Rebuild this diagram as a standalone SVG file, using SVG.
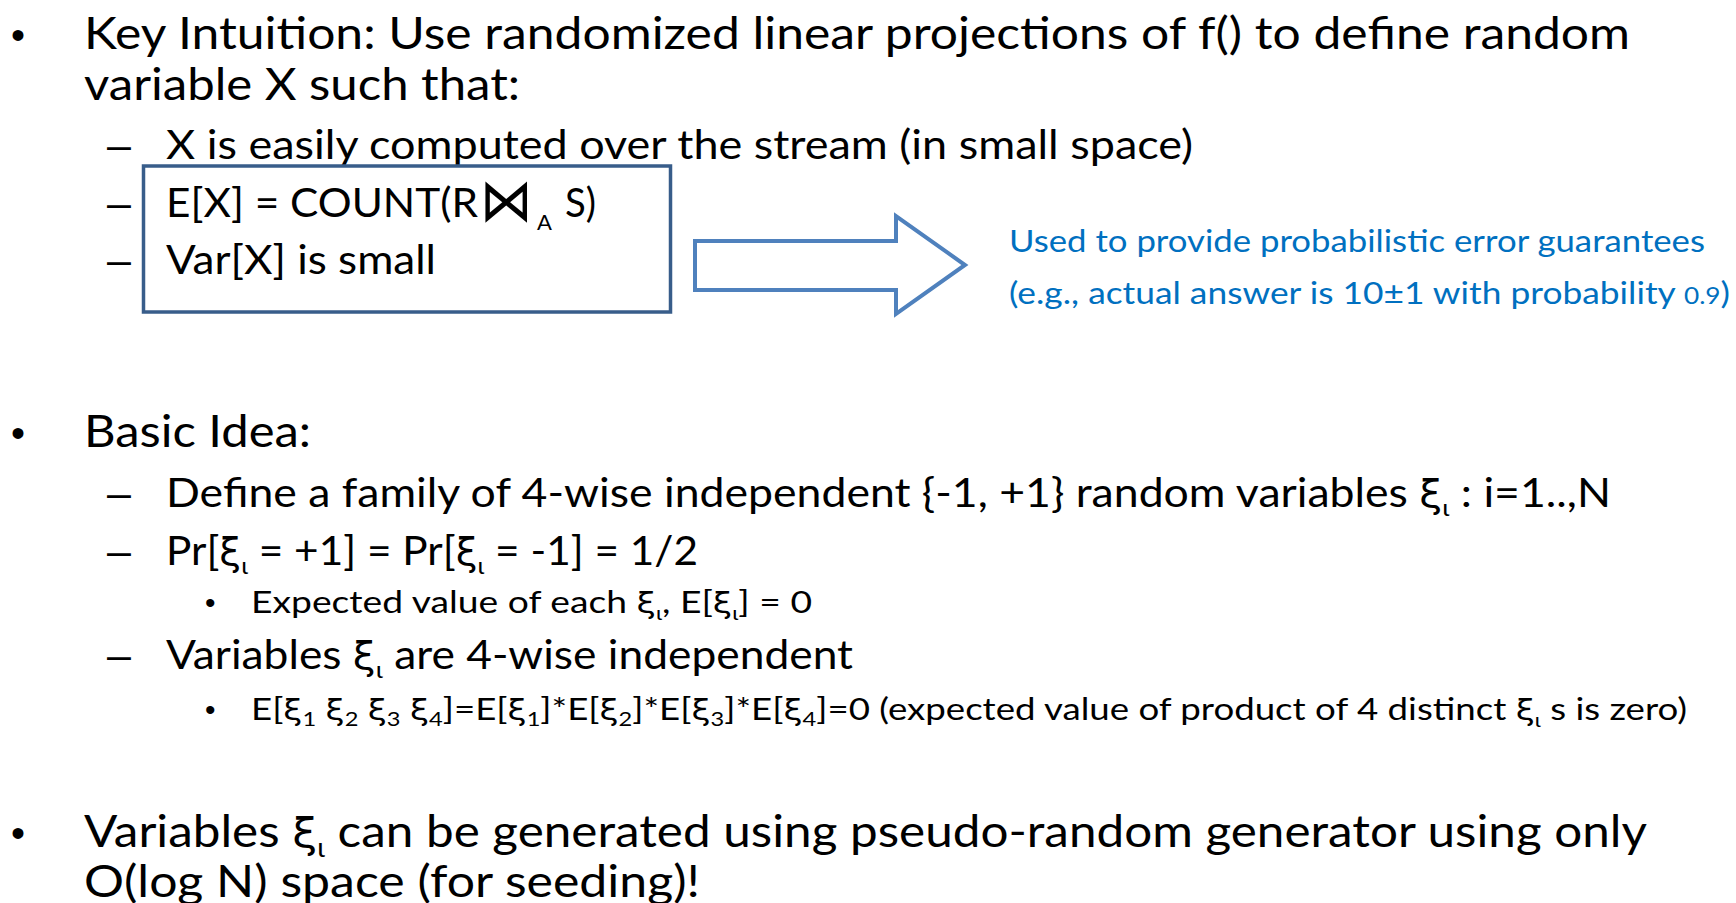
<svg xmlns="http://www.w3.org/2000/svg" width="1736" height="903" viewBox="0 0 1736 903">
  <style>
    text { font-family: Lato, "Liberation Sans", sans-serif; fill: #000; }
    .l1 { font-size: 45px; }
    .l2 { font-size: 40px; }
    .l3 { font-size: 31px; }
    .blt { font-family: "Liberation Sans", Arial, sans-serif; }
    .xi { font-family: "DejaVu Sans", sans-serif; }
    .blue { fill: #0070c0; font-size: 31px; }
    .box { fill: none; stroke: #385d8a; stroke-width: 3.5; }
    .block-arrow { fill: #fff; stroke: #4f81bd; stroke-width: 4; stroke-linejoin: miter; }
  </style>
  <rect width="1736" height="903" fill="#fff"/>

  <!-- Key intuition bullet -->
  <g id="key-intuition">
    <text class="blt" x="11" y="49" font-size="40">•</text>
    <text class="l1" x="84" y="49" textLength="1546" lengthAdjust="spacingAndGlyphs">Key Intuition: Use randomized linear projections of f() to define random</text>
    <text class="l1" x="84" y="100" textLength="436" lengthAdjust="spacingAndGlyphs">variable X such that:</text>
    <text class="blt" x="107" y="159" font-size="43">–</text>
    <text class="l2" x="166" y="159" textLength="1027" lengthAdjust="spacingAndGlyphs">X is easily computed over the stream (in small space)</text>
  </g>

  <!-- Boxed properties of X -->
  <g id="properties-box">
    <text class="blt" x="107" y="217" font-size="43">–</text>
    <text class="l2" x="166" y="217" textLength="312" lengthAdjust="spacingAndGlyphs">E[X] = COUNT(R</text>
    <text class="xi" transform="translate(480,221) scale(1,1.25)" x="0" y="0" font-size="48" textLength="53" lengthAdjust="spacingAndGlyphs">⋈</text>
    <text x="537" y="230" font-size="22">A</text>
    <text class="l2" x="565" y="217" textLength="31" lengthAdjust="spacingAndGlyphs">S)</text>
    <text class="blt" x="107" y="274" font-size="43">–</text>
    <text class="l2" x="166" y="274" textLength="270" lengthAdjust="spacingAndGlyphs">Var[X] is small</text>
    <rect class="box" x="143.5" y="166" width="527" height="146"/>
  </g>

  <!-- Connector: block arrow to the note -->
  <g id="connectors">
    <polygon class="block-arrow" points="695,241 896,241 896,216 965,265 896,314 896,290 695,290"/>
  </g>

  <!-- Note on error guarantees -->
  <g id="guarantee-note">
    <text class="blue" x="1009" y="252" textLength="696" lengthAdjust="spacingAndGlyphs">Used to provide probabilistic error guarantees</text>
    <text class="blue" x="1009" y="304" textLength="721" lengthAdjust="spacingAndGlyphs">(e.g., actual answer is 10±1 with probability <tspan font-size="23">0.9</tspan>)</text>
  </g>

  <!-- Basic idea bullet -->
  <g id="basic-idea">
    <text class="blt" x="11" y="447" font-size="40">•</text>
    <text class="l1" x="84" y="447" textLength="227" lengthAdjust="spacingAndGlyphs">Basic Idea:</text>

    <text class="blt" x="107" y="507" font-size="43">–</text>
    <text class="l2" x="166" y="507" textLength="1445" lengthAdjust="spacingAndGlyphs">Define a family of 4-wise independent {-1, +1} random variables <tspan class="xi" font-size="37">ξ</tspan><tspan font-size="24" dy="9">ι</tspan><tspan dy="-9"> : i=1..,N</tspan></text>

    <text class="blt" x="107" y="565" font-size="43">–</text>
    <text class="l2" x="166" y="565" textLength="532" lengthAdjust="spacingAndGlyphs">Pr[<tspan class="xi" font-size="37">ξ</tspan><tspan font-size="24" dy="9">ι</tspan><tspan dy="-9"> = +1] = Pr[</tspan><tspan class="xi" font-size="37">ξ</tspan><tspan font-size="24" dy="9">ι</tspan><tspan dy="-9"> = -1] = 1/2</tspan></text>

    <text class="blt" x="205" y="613" font-size="30">•</text>
    <text class="l3" x="251" y="613" textLength="561" lengthAdjust="spacingAndGlyphs">Expected value of each <tspan class="xi" font-size="29">ξ</tspan><tspan font-size="19" dy="7">ι</tspan><tspan dy="-7">,  E[</tspan><tspan class="xi" font-size="29">ξ</tspan><tspan font-size="19" dy="7">ι</tspan><tspan dy="-7">] = 0</tspan></text>

    <text class="blt" x="107" y="669" font-size="43">–</text>
    <text class="l2" x="166" y="669" textLength="687" lengthAdjust="spacingAndGlyphs">Variables <tspan class="xi" font-size="37">ξ</tspan><tspan font-size="24" dy="9">ι</tspan><tspan dy="-9"> are 4-wise independent</tspan></text>

    <text class="blt" x="205" y="720" font-size="30">•</text>
    <text class="l3" x="251" y="720" textLength="1436" lengthAdjust="spacingAndGlyphs">E[<tspan class="xi" font-size="29">ξ</tspan><tspan font-size="20" dy="6">1</tspan><tspan dy="-6"> </tspan><tspan class="xi" font-size="29">ξ</tspan><tspan font-size="20" dy="6">2</tspan><tspan dy="-6"> </tspan><tspan class="xi" font-size="29">ξ</tspan><tspan font-size="20" dy="6">3</tspan><tspan dy="-6"> </tspan><tspan class="xi" font-size="29">ξ</tspan><tspan font-size="20" dy="6">4</tspan><tspan dy="-6">]=E[</tspan><tspan class="xi" font-size="29">ξ</tspan><tspan font-size="20" dy="6">1</tspan><tspan dy="-6">]*E[</tspan><tspan class="xi" font-size="29">ξ</tspan><tspan font-size="20" dy="6">2</tspan><tspan dy="-6">]*E[</tspan><tspan class="xi" font-size="29">ξ</tspan><tspan font-size="20" dy="6">3</tspan><tspan dy="-6">]*E[</tspan><tspan class="xi" font-size="29">ξ</tspan><tspan font-size="20" dy="6">4</tspan><tspan dy="-6">]=0 (expected value of product of 4 distinct </tspan><tspan class="xi" font-size="29">ξ</tspan><tspan font-size="19" dy="7">ι</tspan><tspan dy="-7"> s is zero)</tspan></text>
  </g>

  <!-- Generator bullet -->
  <g id="generator">
    <text class="blt" x="11" y="847" font-size="40">•</text>
    <text class="l1" x="84" y="847" textLength="1563" lengthAdjust="spacingAndGlyphs">Variables <tspan class="xi" font-size="41">ξ</tspan><tspan font-size="26" dy="10">ι</tspan><tspan dy="-10"> can be generated using pseudo-random generator using only</tspan></text>
    <text class="l1" x="84" y="897" textLength="616" lengthAdjust="spacingAndGlyphs">O(log N) space (for seeding)!</text>
  </g>
</svg>
